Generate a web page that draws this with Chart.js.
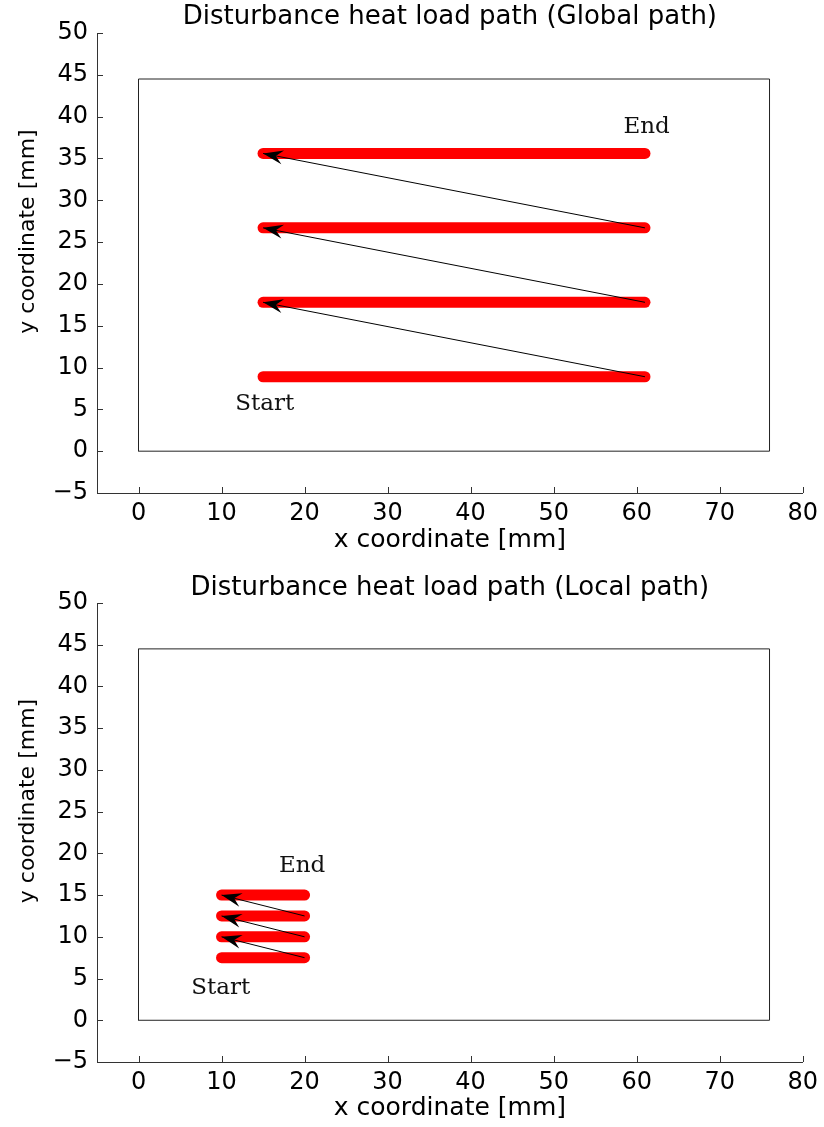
<!DOCTYPE html>
<html>
<head>
<meta charset="utf-8">
<title>Disturbance heat load path</title>
<script src="https://cdn.jsdelivr.net/npm/chart.js@4.4.1/dist/chart.umd.min.js"></script>
<style>
  body { margin: 0; background: #fff; }
  canvas { display: block; }
</style>
</head>
<body>
<canvas id="globalChart" width="824" height="563"></canvas>
<canvas id="localChart" width="824" height="564"></canvas>
<script>
// heat load path rows (y in mm), each row runs from startX to endX
var globalRowsY = [8.9, 17.8, 26.7, 35.6];
var globalStartX = 15;
var globalEndX = 61;

var localRowsY = [7.5, 10, 12.5, 15];
var localStartX = 10;
var localEndX = 20;

// plate outline corners
var plateX = [0, 76, 76, 0, 0];
var plateY = [0, 0, 44.5, 44.5, 0];

// Start / End notes: [text, x, y]
var globalNotes = [['Start', 15.2, 5.6], ['End', 61.2, 38.7]];
var localNotes = [['Start', 9.9, 3.9], ['End', 19.7, 18.5]];

var xTicks = [0, 10, 20, 30, 40, 50, 60, 70, 80];
var yTicks = [-5, 0, 5, 10, 15, 20, 25, 30, 35, 40, 45, 50];

Chart.defaults.font.family = '"DejaVu Sans", sans-serif';
Chart.defaults.color = '#000';

function buildDatasets(rowsY, startX, endX) {
    var sets = [];
    sets.push({
        data: plateX.map(function (x, i) { return {x: x, y: plateY[i]}; }),
        showLine: true, borderColor: '#222', borderWidth: 1,
        pointRadius: 0, order: 3
    });
    rowsY.forEach(function (y) {
        sets.push({
            data: [{x: startX, y: y}, {x: endX, y: y}],
            showLine: true, borderColor: '#ff0000', borderWidth: 11,
            borderCapStyle: 'round', pointRadius: 0, order: 2
        });
    });
    // arrows: end of one row back to the start of the next
    for (var i = 0; i < rowsY.length - 1; i++) {
        sets.push({
            data: [{x: endX, y: rowsY[i]}, {x: startX, y: rowsY[i + 1]}],
            showLine: true, borderColor: '#000', borderWidth: 1,
            pointRadius: 0, order: 1, arrowHead: true
        });
    }
    return sets;
}

var arrowPlugin = {
    id: 'arrowHeads',
    afterDatasetsDraw: function (chart) {
        var ctx = chart.ctx;
        chart.data.datasets.forEach(function (ds, i) {
            if (!ds.arrowHead) return;
            var pts = chart.getDatasetMeta(i).data;
            var a = pts[0], b = pts[1];
            var ang = Math.atan2(b.y - a.y, b.x - a.x);
            var L = 20, W = 7, N = 13;
            ctx.save();
            ctx.translate(b.x, b.y);
            ctx.rotate(ang);
            ctx.beginPath();
            ctx.moveTo(0, 0);
            ctx.lineTo(-L, -W);
            ctx.lineTo(-N, 0);
            ctx.lineTo(-L, W);
            ctx.closePath();
            ctx.fillStyle = '#000';
            ctx.fill();
            ctx.restore();
        });
    }
};

var notesPlugin = {
    id: 'pathNotes',
    afterDraw: function (chart, args, opts) {
        var ctx = chart.ctx;
        var xs = chart.scales.x, ys = chart.scales.y;
        ctx.save();
        ctx.font = '23px "DejaVu Serif", serif';
        ctx.fillStyle = '#111';
        ctx.textAlign = 'center';
        ctx.textBaseline = 'middle';
        (opts.notes || []).forEach(function (n) {
            ctx.fillText(n[0], xs.getPixelForValue(n[1]), ys.getPixelForValue(n[2]));
        });
        ctx.restore();
    }
};

// short tick marks pointing into the axes box
var innerTicksPlugin = {
    id: 'innerTicks',
    afterDraw: function (chart) {
        var ctx = chart.ctx;
        var xs = chart.scales.x, ys = chart.scales.y;
        var area = chart.chartArea;
        ctx.save();
        ctx.strokeStyle = '#333';
        ctx.lineWidth = 1;
        ctx.beginPath();
        xs.ticks.forEach(function (t) {
            var px = Math.round(xs.getPixelForValue(t.value)) + 0.5;
            ctx.moveTo(px, area.bottom);
            ctx.lineTo(px, area.bottom - 6);
        });
        ys.ticks.forEach(function (t) {
            var py = Math.round(ys.getPixelForValue(t.value)) + 0.5;
            ctx.moveTo(area.left, py);
            ctx.lineTo(area.left + 6, py);
        });
        ctx.stroke();
        ctx.restore();
    }
};

function minusLabel(v) {
    return String(v).replace('-', '\u2212');
}

function makeChart(id, title, rowsY, startX, endX, notes, lay) {
    var ctx = document.getElementById(id).getContext('2d');
    return new Chart(ctx, {
        type: 'scatter',
        data: { datasets: buildDatasets(rowsY, startX, endX) },
        plugins: [arrowPlugin, notesPlugin, innerTicksPlugin],
        options: {
            responsive: false,
            animation: false,
            layout: { padding: 0 },
            plugins: {
                legend: { display: false },
                tooltip: { enabled: false },
                title: { display: false },
                pathNotes: { notes: notes }
            },
            scales: {
                // top axis only carries the plot title, centred over the axes box
                top: {
                    type: 'linear', position: 'top', min: -5, max: 80,
                    afterFit: function (s) { s.height = lay.topHeight; },
                    grid: { display: false, drawTicks: false },
                    border: { display: false },
                    ticks: { display: false },
                    title: {
                        display: true, text: title, color: '#000',
                        font: { size: 26, lineHeight: 1 },
                        padding: { top: lay.titleTop, bottom: 0 }
                    }
                },
                x: {
                    type: 'linear', position: 'bottom', min: -5, max: 80,
                    afterBuildTicks: function (s) {
                        s.ticks = xTicks.map(function (v) { return {value: v}; });
                    },
                    afterFit: function (s) { s.height = lay.xHeight; },
                    grid: { display: false, drawTicks: false },
                    border: { display: true, color: '#333', width: 1 },
                    ticks: { font: { size: 24 }, color: '#000', padding: 6, maxRotation: 0, callback: minusLabel },
                    title: {
                        display: true, text: 'x coordinate [mm]', color: '#000',
                        font: { size: 25 }, padding: { top: 0, bottom: lay.xTitlePad }
                    }
                },
                y: {
                    type: 'linear', min: -5, max: 50,
                    afterBuildTicks: function (s) {
                        s.ticks = yTicks.map(function (v) { return {value: v}; });
                    },
                    afterFit: function (s) { s.width = 97; },
                    grid: { display: false, drawTicks: false },
                    border: { display: true, color: '#333', width: 1 },
                    ticks: { font: { size: 24 }, color: '#000', padding: 9, callback: minusLabel },
                    title: {
                        display: true,
                        text: '\u00a0\u00a0\u00a0\u00a0\u00a0\u00a0\u00a0\u00a0\u00a0y coordinate [mm]',
                        color: '#000',
                        font: { size: 22 }, padding: { top: 15, bottom: 0 }
                    }
                }
            }
        }
    });
}

window.onload = function () {
    makeChart('globalChart', 'Disturbance heat load path (Global path)',
        globalRowsY, globalStartX, globalEndX, globalNotes,
        { topHeight: 33, titleTop: 4, xHeight: 70, xTitlePad: 8 });
    makeChart('localChart', 'Disturbance heat load path (Local path)',
        localRowsY, localStartX, localEndX, localNotes,
        { topHeight: 40, titleTop: 12, xHeight: 65, xTitlePad: 4 });
};
</script>
</body>
</html>
